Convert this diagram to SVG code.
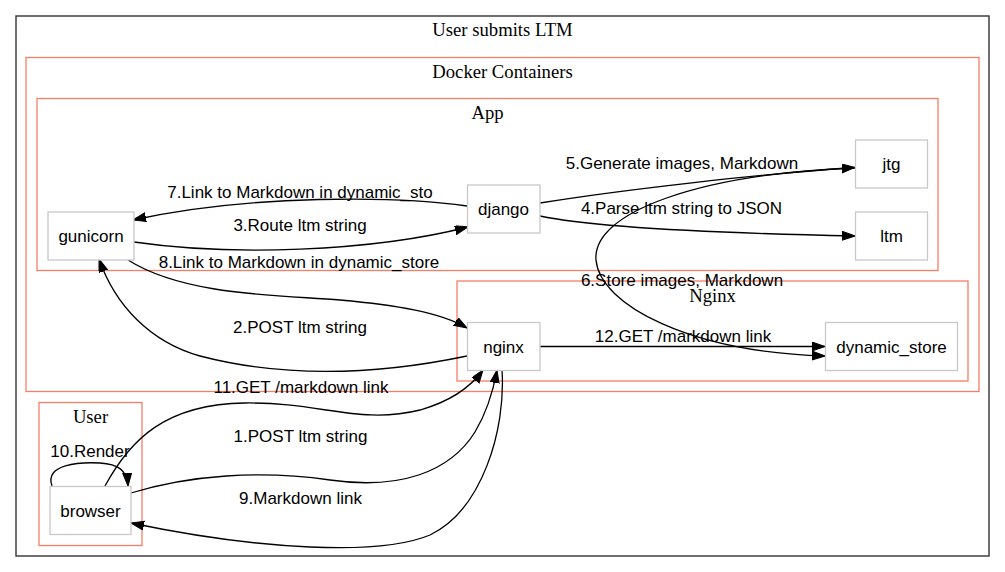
<svg xmlns="http://www.w3.org/2000/svg" width="1005" height="572" viewBox="0 0 1005 572">
<style>
.outer{fill:none;stroke:#333;stroke-width:1.4}
.cl{fill:none;stroke:#f87d66;stroke-width:1.3}
.ct{font-family:"Liberation Serif",serif;font-size:18.67px;text-anchor:middle;fill:#000}
.nd{fill:#fff;stroke:#c8c8c8;stroke-width:1.3}
.nt{font-family:"Liberation Sans",Arial,sans-serif;font-size:17px;text-anchor:middle;fill:#000}
.e{fill:none;stroke:#000;stroke-width:1.3;marker-end:url(#ah)}
.el{font-family:"Liberation Sans",Arial,sans-serif;font-size:17px;text-anchor:middle;fill:#000}
</style>
<defs>
<marker id="ah" markerUnits="userSpaceOnUse" markerWidth="14" markerHeight="10" refX="13" refY="4.5" orient="auto" viewBox="0 0 14 10">
<path d="M0,0 L13,4.5 L0,9 Z" fill="#000" stroke="#000" stroke-width="1"/>
</marker>
</defs>
<rect width="1005" height="572" fill="#fff"/>
<g id="cluster-main">
<rect class="outer" x="16" y="16" width="973" height="540"/>
<text class="ct" x="502.5" y="36">User submits LTM</text>
</g>
<g id="cluster-docker">
<rect class="cl" x="26" y="57.5" width="953" height="334"/>
<text class="ct" x="502.5" y="78">Docker Containers</text>
</g>
<g id="cluster-app">
<rect class="cl" x="37" y="98.5" width="901" height="172"/>
<text class="ct" x="487.5" y="119">App</text>
</g>
<g id="cluster-nginx">
<rect class="cl" x="457" y="281" width="511" height="100"/>
<text class="ct" x="712.5" y="302">Nginx</text>
</g>
<g id="cluster-user">
<rect class="cl" x="39" y="402.5" width="103" height="143"/>
<text class="ct" x="90.5" y="423">User</text>
</g>
<g id="connectors">
<path class="e" d="M467,206 C400,196 250,194 133,220"/>
<text class="el" x="300" y="198">7.Link to Markdown in dynamic_sto</text>
<path class="e" d="M134,242 C230,256 370,252 468,227"/>
<text class="el" x="300" y="231">3.Route ltm string</text>
<path class="e" d="M540,203 C620,190 760,174 855,167.5"/>
<text class="el" x="682" y="169">5.Generate images, Markdown</text>
<path class="e" d="M540,216 C600,229 760,234 855,236"/>
<text class="el" x="681.5" y="214">4.Parse ltm string to JSON</text>
<path class="e" d="M855,168 C700,174 592,212 596,260 C600,305 690,352 825,356"/>
<text class="el" x="682" y="285.5">6.Store images, Markdown</text>
<path class="e" d="M540,346.5 L825,346.5"/>
<text class="el" x="683" y="342">12.GET /markdown link</text>
<path class="e" d="M128,260 C185,296 280,295 340,300 C395,305 440,312 467,328"/>
<text class="el" x="299" y="268">8.Link to Markdown in dynamic_store</text>
<path class="e" d="M467,356 C400,370 300,382 200,356 C150,342 115,305 99,259"/>
<text class="el" x="300" y="333">2.POST ltm string</text>
<path class="e" d="M105,486 C130,440 165,404 245,403 C320,402 360,425 420,410 C448,402 470,388 483,370"/>
<text class="el" x="301" y="393">11.GET /markdown link</text>
<path class="e" d="M131,493 C190,475 260,470 330,480 C400,490 450,472 475,432 C487,412 493,392 497,370"/>
<text class="el" x="300.5" y="442">1.POST ltm string</text>
<path class="e" d="M502,370 C506,430 482,510 430,535 C380,556 260,550 131,523"/>
<text class="el" x="300.5" y="504">9.Markdown link</text>
<path class="e" d="M52,486 C44,464 80,462 100,463 C118,464 127,470 128,486"/>
<text class="el" x="90" y="457">10.Render</text>
</g>
<g id="node-gunicorn">
<rect class="nd" x="48" y="212" width="86" height="48"/>
<text class="nt" x="91" y="242">gunicorn</text>
</g>
<g id="node-django">
<rect class="nd" x="467.5" y="185" width="72.5" height="48"/>
<text class="nt" x="503.5" y="215">django</text>
</g>
<g id="node-jtg">
<rect class="nd" x="855.5" y="140" width="72" height="48"/>
<text class="nt" x="891.5" y="170">jtg</text>
</g>
<g id="node-ltm">
<rect class="nd" x="855.5" y="212" width="72" height="48"/>
<text class="nt" x="891.5" y="242">ltm</text>
</g>
<g id="node-nginx">
<rect class="nd" x="467.5" y="322.5" width="72.5" height="48"/>
<text class="nt" x="503.5" y="352.5">nginx</text>
</g>
<g id="node-dynamic_store">
<rect class="nd" x="825.5" y="322.5" width="132" height="48"/>
<text class="nt" x="891.5" y="352.5">dynamic_store</text>
</g>
<g id="node-browser">
<rect class="nd" x="50" y="486.5" width="81" height="48"/>
<text class="nt" x="90.5" y="516.5">browser</text>
</g>
</svg>
